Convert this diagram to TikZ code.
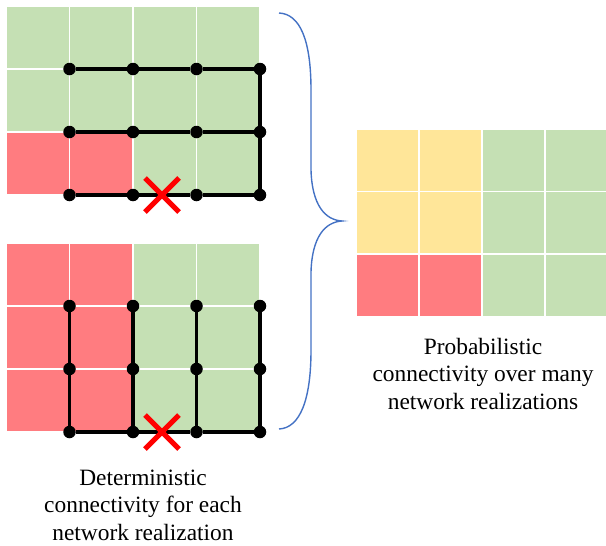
\documentclass[tikz,border=0pt]{standalone}
\usepackage{fontspec}
\setmainfont{Liberation Serif}
\definecolor{cgreen}{HTML}{C5E0B4}
\definecolor{cred}{HTML}{FF7C80}
\definecolor{cyellow}{HTML}{FFE699}
\definecolor{cblue}{HTML}{4472C4}
\begin{document}
\begin{tikzpicture}[x=1pt,y=-1pt,
  cell/.style={draw=white,line width=1.3pt},
  dot/.style={circle,fill=black,inner sep=0pt,minimum size=12.5pt},
  link/.style={line width=3.2pt,black},
  cross/.style={red,line width=5pt},
  brace/.style={cblue,line width=1.4pt},
  label/.style={align=center,font=\fontsize{23.4}{27.5}\selectfont,inner sep=0pt}]
\useasboundingbox (0,0) rectangle (606,546);
% top-left grid
\foreach \i in {0,...,3}{\foreach \j in {0,...,2}{
  \ifnum\i<2 \ifnum\j=2 \def\cc{cred}\else\def\cc{cgreen}\fi\else\def\cc{cgreen}\fi
  \filldraw[cell,fill=\cc] ({6+63.5*\i},{6+63*\j}) rectangle ++(63.5,63);
}}
% bottom-left grid
\foreach \i in {0,...,3}{\foreach \j in {0,...,2}{
  \ifnum\i<2 \def\cc{cred}\else\def\cc{cgreen}\fi
  \filldraw[cell,fill=\cc] ({6+63.5*\i},{243+63*\j}) rectangle ++(63.5,63);
}}
% right grid
\foreach \i in {0,...,3}{\foreach \j in {0,...,2}{
  \ifnum\i<2 \ifnum\j=2 \def\cc{cred}\else\def\cc{cyellow}\fi\else\def\cc{cgreen}\fi
  \filldraw[cell,fill=\cc] ({356+63*\i},{129+62.5*\j}) rectangle ++(63,62.5);
}}
% dots
\foreach \i in {1,...,4}{\foreach \j in {1,2,3}{
  \node[dot] (t\i\j) at ({6+63.5*\i},{6+63*\j}) {};
  \node[dot] (b\i\j) at ({6+63.5*\i},{243+63*\j}) {};
}}
% top network links
\foreach \i/\k in {1/2,2/3,3/4}{\foreach \j in {1,2,3}{
  \draw[link] (t\i\j) -- (t\k\j);
}}
\draw[link] (t41) -- (t42);
\draw[link] (t42) -- (t43);
% bottom network links
\foreach \i in {1,...,4}{
  \draw[link] (b\i1) -- (b\i2);
  \draw[link] (b\i2) -- (b\i3);
}
\foreach \i/\k in {1/2,2/3,3/4}{\draw[link] (b\i3) -- (b\k3);}
% failure crosses
\coordinate (xa) at (162,195);
\coordinate (xb) at (162,432);
\foreach \c in {xa,xb}{
  \draw[cross] (\c) ++(-17,-17) -- ++(34,34);
  \draw[cross] (\c) ++(-17,17) -- ++(34,-34);
}
% brace
\draw[brace] (279,13) .. controls (300,14) and (311,40) .. (311,90)
  -- (311,170) .. controls (312,205) and (325,220) .. (342,221)
  .. controls (325,222) and (312,237) .. (311,272)
  -- (311,350) .. controls (311,400) and (300,428) .. (279,429);
% labels
\node[label,anchor=base] (lp) at (483,409) {Probabilistic\\connectivity over many\\network realizations};
\node[label,anchor=base] (ld) at (143,540) {Deterministic\\connectivity for each\\network realization};
\end{tikzpicture}
\end{document}
